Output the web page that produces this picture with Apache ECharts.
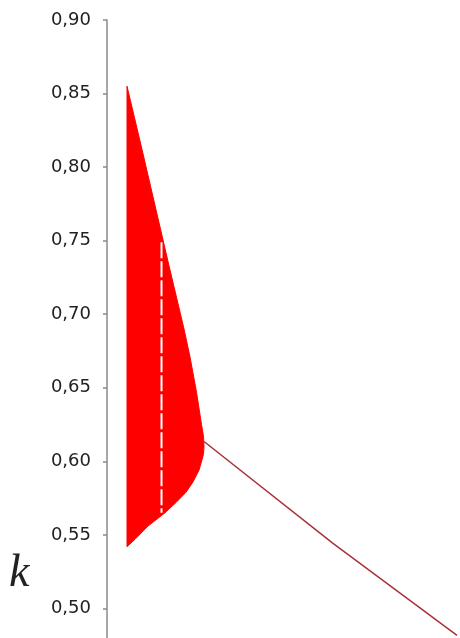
<!DOCTYPE html>
<html>
<head>
<meta charset="utf-8">
<script src="https://cdn.jsdelivr.net/npm/echarts@6/dist/echarts.min.js"></script>
<style>
  html, body { margin: 0; padding: 0; background: #fff; }
  #chart_box { width: 460px; height: 638px; }
</style>
</head>
<body>
<div id="chart_box"></div>
<script>
// outline of the red region (x is a hidden parameter axis, k on the y axis)
var regionX = [0.20, 0.35, 0.49, 0.63, 0.77, 0.83, 0.895, 0.945, 0.965, 0.97,
               0.965, 0.95, 0.92, 0.86, 0.79, 0.69, 0.58, 0.41, 0.28, 0.20];
var regionK = [0.855, 0.812, 0.771, 0.730, 0.690, 0.671, 0.647, 0.625, 0.617, 0.610,
               0.605, 0.601, 0.594, 0.586, 0.579, 0.572, 0.565, 0.556, 0.547, 0.542];

// white gap running down inside the region
var gapX = [0.545, 0.545];
var gapK = [0.749, 0.565];

// single branch after the region closes
var branchX = [0.97, 2.26, 3.50];
var branchK = [0.6135, 0.5442, 0.4817];

var kTicks = [0.45, 0.50, 0.55, 0.60, 0.65, 0.70, 0.75, 0.80, 0.85, 0.90];

function pairs(xs, ys) {
  var out = [];
  for (let i = 0; i < xs.length; i++) {
    out.push([xs[i], ys[i]]);
  }
  return out;
}

var myChart = echarts.init(document.getElementById("chart_box"));
myChart.setOption({
  animation: false,
  grid: {
    left: 107,
    right: 0,
    top: 20,
    bottom: -44,
    outerBoundsMode: 'none'
  },
  xAxis: {
    type: 'value',
    min: 0,
    max: 3.53,
    show: false
  },
  yAxis: {
    type: 'value',
    min: kTicks[0],
    max: kTicks[kTicks.length - 1],
    interval: 0.05,
    axisLine: { show: true, lineStyle: { color: '#8a8a8a', width: 1.5 } },
    axisTick: { show: true, length: 4, lineStyle: { color: '#8a8a8a', width: 1.5 } },
    splitLine: { show: false },
    axisLabel: {
      margin: 16,
      color: '#222',
      fontFamily: 'DejaVu Sans',
      fontSize: 18,
      formatter: function (v) {
        return v.toFixed(2).replace('.', ',');
      }
    }
  },
  graphic: [{
    type: 'text',
    left: 9,
    top: 551,
    style: {
      text: 'k',
      fontFamily: 'Liberation Serif',
      fontStyle: 'italic',
      fontSize: 46,
      fill: '#222'
    }
  }],
  series: [
    {
      type: 'custom',
      silent: true,
      data: [[0, 0]],
      renderItem: function (params, api) {
        var pts = [];
        for (let i = 0; i < regionX.length; i++) {
          pts.push(api.coord([regionX[i], regionK[i]]));
        }
        return {
          type: 'polygon',
          shape: { points: pts },
          style: { fill: '#ff0000', stroke: '#ff0000', lineWidth: 1 }
        };
      }
    },
    {
      type: 'line',
      data: pairs(gapX, gapK),
      symbol: 'none',
      lineStyle: { color: '#ffffff', width: 2, type: [16, 3] }
    },
    {
      type: 'line',
      data: pairs(branchX, branchK),
      symbol: 'none',
      lineStyle: { color: '#a8323a', width: 1.5 }
    }
  ]
});
</script>
</body>
</html>
